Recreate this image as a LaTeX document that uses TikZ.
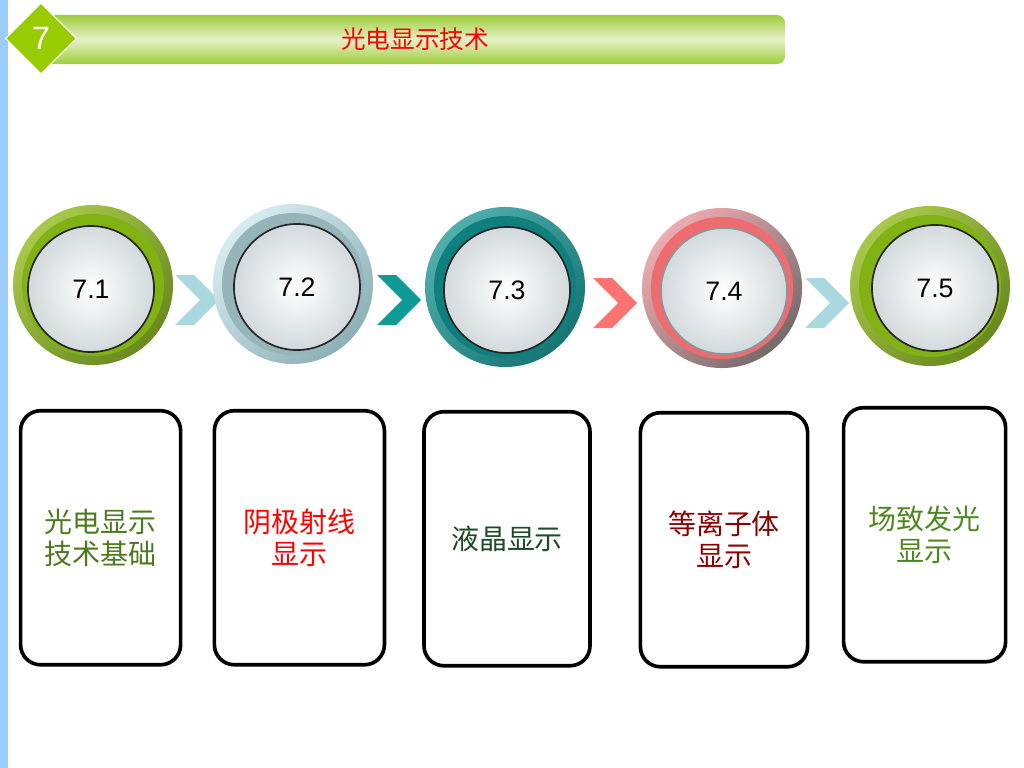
\documentclass[tikz,border=0pt]{standalone}
\usepackage{fontspec}
\setmainfont{Liberation Sans}
\newfontfamily\cjk{Noto Sans CJK SC}
\usepackage{tikz}
\usetikzlibrary{shapes,arrows,positioning}

\definecolor{sidebar}{RGB}{156,204,250}
\definecolor{leaf}{RGB}{153,204,0}
\definecolor{barlight}{RGB}{230,240,200}
\definecolor{bardark}{RGB}{158,204,58}
\definecolor{chevlight}{RGB}{169,217,223}
\definecolor{chevteal}{RGB}{16,154,150}
\definecolor{chevred}{RGB}{255,114,114}
\definecolor{greentop}{RGB}{168,200,76}
\definecolor{greenbot}{RGB}{104,138,30}
\definecolor{greenband}{RGB}{128,178,20}
\definecolor{icetop}{RGB}{214,236,240}
\definecolor{icebot}{RGB}{140,176,182}
\definecolor{iceband}{RGB}{150,180,186}
\definecolor{tealtop}{RGB}{80,174,172}
\definecolor{tealbot}{RGB}{22,118,116}
\definecolor{tealband}{RGB}{16,128,126}
\definecolor{rosetop}{RGB}{236,172,176}
\definecolor{rosebot}{RGB}{118,106,108}
\definecolor{roseband}{RGB}{238,108,112}
\definecolor{discgray}{RGB}{210,217,220}
\definecolor{ringgray}{RGB}{140,150,154}
\definecolor{txtolive}{RGB}{78,122,30}
\definecolor{txtgreen}{RGB}{30,74,40}
\definecolor{txtmaroon}{RGB}{140,0,0}
\definecolor{txtleaf}{RGB}{78,136,30}

\begin{document}
\begin{tikzpicture}[x=0.025cm,y=-0.025cm,node distance=1.4cm,
	num node/.style={circle, draw=black!85, line width=1.2pt, minimum size=3.15cm, inner sep=0pt, inner color=white, outer color=discgray, font=\fontsize{19}{19}\selectfont},
	box node/.style={draw, line width=2.6pt, rounded corners=0.5cm, fill=white, minimum height=6.35cm, align=center, font=\cjk\fontsize{19.9}{22.8}\selectfont}]
			\useasboundingbox (0,0) rectangle (1024,768);
			\fill[sidebar] (0,0) rectangle (7.5,768);
			
			\node[rounded corners=0.2cm, minimum width=18.5cm, minimum height=1.225cm, top color=bardark, bottom color=bardark, middle color=barlight, text=red, font=\cjk\fontsize{17.5}{17.5}\selectfont] (bar) at (415,39.5) {光电显示技术};
			\node[diamond, fill=leaf, draw=white, line width=0.8pt, minimum width=1.78cm, minimum height=1.78cm, inner sep=0pt, text=white, font=\fontsize{23}{23}\selectfont] (sec) at (41,38.5) {7};
			
			\foreach \x/\y/\c in {175/300/chevlight, 377/300/chevteal, 593/303/chevred, 805/303/chevlight}
			\fill[\c] (\x,\y) ++(0,-25) -- ++(19,0) -- ++(25,25) -- ++(-25,25) -- ++(-19,0) -- ++(25,-25) -- cycle;
			
			\foreach \x/\y/\ca/\cb/\cc in {93/285/greentop/greenbot/greenband, 293/284/icetop/icebot/iceband, 505/287/tealtop/tealbot/tealband, 722/288/rosetop/rosebot/roseband, 930/286/greentop/greenbot/greenband}{
				\shade[top color=\ca, bottom color=\cb, shading angle=45] (\x,\y) circle (2cm);
				\fill[\cc] (\x,\y) circle (1.775cm);
			}
			
			\node[num node] (c1) at (91,289) {7.1};
			\node[num node] (c2) at (297,287) {7.2};
			\node[num node] (c3) at (507,290) {7.3};
			\node[num node, draw=ringgray] (c4) at (724,291) {7.4};
			\node[num node] (c5) at (935,288) {7.5};
			
			\node[box node, minimum width=4cm, text=txtolive] (b1) [below=of c1, xshift=.24cm] {光电显示\\技术基础};
			\node[box node, minimum width=4.25cm, text=red] (b2) [below=of c2, xshift=.06cm, yshift=-.05cm] {阴极射线\\显示};
			\node[box node, minimum width=4.15cm, text=txtgreen] (b3) [below=of c3] {液晶显示};
			\node[box node, minimum width=4.18cm, text=txtmaroon] (b4) [below=of c4] {等离子体\\显示};
			\node[box node, minimum width=4.05cm, text=txtleaf] (b5) [below=of c5, xshift=-.26cm, yshift=.05cm] {场致发光\\显示};
			
			\end{tikzpicture}
\end{document}
